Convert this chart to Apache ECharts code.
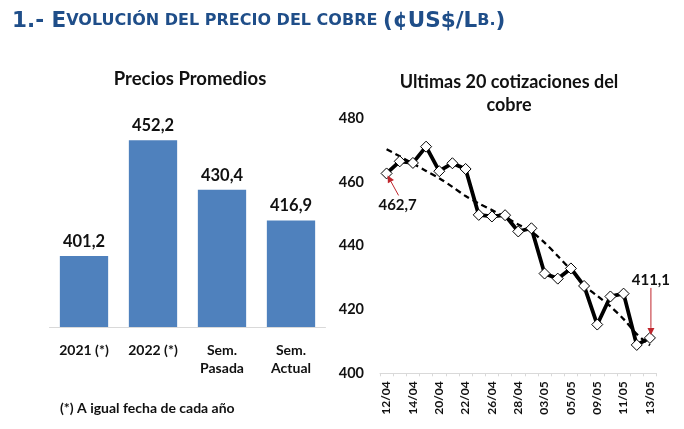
<!DOCTYPE html>
<html><head><meta charset="utf-8">
<script src="https://cdn.jsdelivr.net/npm/echarts@6/dist/echarts.min.js"></script>
<style>html,body{margin:0;padding:0;background:#fff}#c{width:684px;height:429px}</style>
</head><body><div id="c"></div>
<script>
// Left chart: average prices
const barCategories = ['2021 (*)', '2022 (*)', 'Sem.\nPasada', 'Sem.\nActual'];
const barValues = [401.2, 452.2, 430.4, 416.9];

// Right chart: last quotations
const dates = ['12/04','13/04','14/04','19/04','20/04','21/04','22/04','25/04','26/04','27/04','28/04','29/04','03/05','04/05','05/05','06/05','09/05','10/05','11/05','12/05','13/05'];
const prices = [462.7, 466.5, 466.0, 471.1, 463.4, 465.9, 464.1, 449.7, 449.2, 449.6, 444.5, 445.5, 431.3, 429.7, 432.9, 427.4, 415.3, 424.1, 425.0, 408.9, 411.1];
// dashed trend line (one value per date)
const trend = [470.3, 468.1, 465.8, 463.5, 461.2, 458.5, 455.6, 453.3, 451.2, 449.0, 446.7, 444.4, 441.0, 436.8, 432.4, 427.6, 424.3, 421.0, 417.0, 412.3, 408.8];
const lineYTicks = [400, 420, 440, 460, 480];

const fmt = v => v.toFixed(1).replace('.', ',');

const FONT = 'Lato';
const TXT = '#111';
const chart = echarts.init(document.getElementById('c'), null, {renderer: 'canvas'});

chart.setOption({
  backgroundColor: '#fff',
  animation: false,
  title: [
    {
      text: '{b|1.- E}{s|VOLUCIÓN DEL PRECIO DEL COBRE }{b|(¢US$/L}{s|B.}{b|)}',
      left: 7, top: 5,
      textStyle: {
        rich: {
          b: {fontFamily: 'DejaVu Sans', fontWeight: 'bold', fontSize: 21.5, color: '#1F4E89'},
          s: {fontFamily: 'DejaVu Sans', fontWeight: 'bold', fontSize: 16, color: '#1F4E89'}
        }
      }
    },
    {
      text: 'Precios Promedios', left: 185, top: 65, textAlign: 'center',
      textStyle: {fontFamily: FONT, fontWeight: 'bold', fontSize: 18.5, color: TXT}
    },
    {
      text: 'Ultimas 20 cotizaciones del\ncobre', left: 504, top: 66, textAlign: 'center',
      textStyle: {fontFamily: FONT, fontWeight: 'bold', fontSize: 18, color: TXT, lineHeight: 23}
    },
    {
      text: '(*) A igual fecha de cada año', left: 55, top: 396,
      textStyle: {fontFamily: FONT, fontWeight: 'bold', fontSize: 14, color: TXT}
    }
  ],
  grid: [
    {left: 49.5, width: 276, top: 77, height: 250},
    {left: 380, width: 276.5, top: 118.3, height: 255}
  ],
  xAxis: [
    {
      gridIndex: 0, type: 'category', data: barCategories,
      axisLine: {lineStyle: {color: '#d9d9d9', width: 1}},
      axisTick: {show: false},
      axisLabel: {fontFamily: FONT, fontWeight: 'bold', fontSize: 14, color: TXT, margin: 14, lineHeight: 18, interval: 0}
    },
    {
      gridIndex: 1, type: 'category', data: dates, boundaryGap: true,
      axisLine: {lineStyle: {color: '#d9d9d9', width: 1}},
      axisTick: {show: true, interval: 0, length: 3, lineStyle: {color: '#d9d9d9'}},
      axisLabel: {fontFamily: FONT, fontWeight: 'bold', fontSize: 12, color: TXT, rotate: 90, interval: 1, margin: 8}
    }
  ],
  yAxis: [
    {gridIndex: 0, type: 'value', min: 370, max: 480, show: false},
    {
      gridIndex: 1, type: 'value', min: lineYTicks[0], max: lineYTicks[lineYTicks.length - 1], interval: 20,
      axisLine: {show: false}, axisTick: {show: false}, splitLine: {show: false},
      axisLabel: {fontFamily: FONT, fontWeight: 'bold', fontSize: 14.5, color: TXT, margin: 16}
    }
  ],
  series: [
    {
      type: 'bar', xAxisIndex: 0, yAxisIndex: 0, data: barValues,
      barCategoryGap: '30%',
      itemStyle: {color: '#4F81BD'},
      label: {show: true, position: 'top', distance: 6, formatter: p => fmt(p.value),
        fontFamily: FONT, fontWeight: 'bold', fontSize: 16.5, color: TXT}
    },
    {
      type: 'line', xAxisIndex: 1, yAxisIndex: 1, data: trend, smooth: 0.3,
      symbol: 'none', lineStyle: {color: '#000', width: 2.3, type: [6, 4]}, z: 3
    },
    {
      type: 'line', xAxisIndex: 1, yAxisIndex: 1, data: prices,
      symbol: 'diamond', symbolSize: 11, showAllSymbol: true,
      lineStyle: {color: '#000', width: 3.8},
      itemStyle: {color: '#fff', borderColor: '#000', borderWidth: 1},
      z: 4
    }
  ]
});

// Annotations anchored on data points
function arrow(tail, tip, color) {
  const dx = tip[0] - tail[0], dy = tip[1] - tail[1];
  const len = Math.sqrt(dx * dx + dy * dy);
  const ux = dx / len, uy = dy / len;
  const hl = 7, hw = 3.5;
  const bx = tip[0] - ux * hl, by = tip[1] - uy * hl;
  return [
    {type: 'line', shape: {x1: tail[0], y1: tail[1], x2: bx, y2: by}, style: {stroke: color, lineWidth: 1}, z: 10},
    {type: 'polygon', shape: {points: [tip, [bx - uy * hw, by + ux * hw], [bx + uy * hw, by - ux * hw]]}, style: {fill: color}, z: 10}
  ];
}
const p0 = chart.convertToPixel({xAxisIndex: 1, yAxisIndex: 1}, [0, prices[0]]);
const last = prices.length - 1;
const pN = chart.convertToPixel({xAxisIndex: 1, yAxisIndex: 1}, [last, prices[last]]);
const red = '#C0262D';
const g = [].concat(
  arrow([p0[0] + 12, p0[1] + 22], [p0[0] + 1, p0[1] + 2], red),
  arrow([pN[0] + 1, pN[1] - 50], [pN[0] + 1, pN[1] - 3], red),
  [
    {type: 'text', x: p0[0] + 11, y: p0[1] + 32, style: {text: fmt(prices[0]), fontFamily: FONT, fontWeight: 'bold', fontSize: 15, fill: TXT, align: 'center', verticalAlign: 'middle'}, z: 10},
    {type: 'text', x: pN[0] + 1, y: pN[1] - 58, style: {text: fmt(prices[last]), fontFamily: FONT, fontWeight: 'bold', fontSize: 15, fill: TXT, align: 'center', verticalAlign: 'middle'}, z: 10}
  ]
);
chart.setOption({graphic: g});
</script>
</body></html>
